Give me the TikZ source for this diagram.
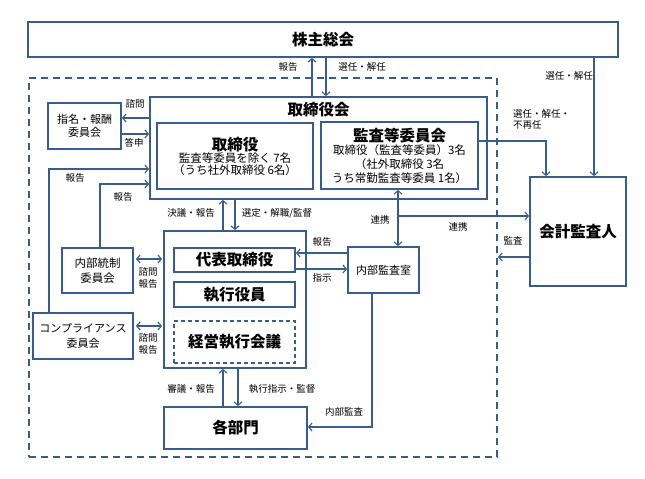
\documentclass[tikz,border=0pt]{standalone}
\usepackage{fontspec}
\setmainfont{Noto Sans CJK JP}
\usetikzlibrary{arrows.meta}
\definecolor{lineblue}{RGB}{56,93,138}
\tikzset{
  box/.style={draw=lineblue, line width=1.8pt, inner sep=1pt, align=center},
  ttl/.style={font=\fontsize{15.5}{18}\selectfont\bfseries},
  txt/.style={font=\fontsize{11.5}{14}\selectfont},
  lbl/.style={font=\fontsize{9.5}{11.5}\selectfont, inner sep=0pt, align=center},
  arr/.style={draw=lineblue, line width=1.1pt, -{Straight Barb[length=3.5pt,width=8pt]}},
  dblarr/.style={arr, {Straight Barb[length=3.5pt,width=8pt]}-{Straight Barb[length=3.5pt,width=8pt]}},
}
\newcommand{\bigt}[1]{{\fontsize{15.5}{18}\selectfont\bfseries #1}}
\begin{document}
\begin{tikzpicture}[x=1pt,y=-1pt]
  \useasboundingbox (0,0) rectangle (645,479);

  % GRUPPO (riquadro tratteggiato)
  \node[box, dash pattern=on 7pt off 5pt, minimum width=468, minimum height=379] (grp) at (263,267.5) {};

  % ASSEMBLEA
  \node[box, ttl, minimum width=590, minimum height=35] (sh) at (323,39.5) {株主総会};

  % CONSIGLIO
  \node[box, minimum width=337, minimum height=102] (bod) at (318.5,148) {};
  \node[ttl, inner sep=0pt] (bodt) at (318.5,110) {取締役会};
  \node[box, txt, minimum width=156, minimum height=66] (dir) at (235,156)
    {\bigt{取締役}\\[-2pt]監査等委員を除く 7名\\[-2pt]（うち社外取締役 6名）};
  \node[box, txt, minimum width=157, minimum height=67] (ac) at (399.5,155.5)
    {\bigt{監査等委員会}\\[-1pt]取締役（監査等委員）3名\\（社外取締役 3名\\うち常勤監査等委員 1名）};
  \node[box, font=\fontsize{11}{13}\selectfont, minimum width=73, minimum height=46] (nom) at (84.5,126) {指名・報酬\\委員会};

  % REVISORE
  \node[box, ttl, minimum width=96, minimum height=109] (ca) at (578,231.5) {会計監査人};

  % COMITATI
  \node[box, font=\fontsize{11.5}{15}\selectfont, minimum width=71, minimum height=45] (icc) at (97.5,270.5) {内部統制\\委員会};
  \node[box, font=\fontsize{11}{15}\selectfont, minimum width=100, minimum height=46] (comp) at (83,336) {コンプライアンス\\委員会};

  % ESECUTIVO
  \node[box, minimum width=142, minimum height=137] (exe) at (235,299.5) {};
  \node[box, ttl, minimum width=121, minimum height=24] (rep) at (234.5,260) {代表取締役};
  \node[box, ttl, minimum width=121, minimum height=25] (off) at (234.5,294.5) {執行役員};
  \node[box, ttl, dash pattern=on 4pt off 3pt, minimum width=121, minimum height=42] (mgmt) at (234.5,342) {経営執行会議};
  \node[box, font=\fontsize{11}{13}\selectfont, minimum width=71, minimum height=46] (iad) at (383.5,270) {内部監査室};
  \node[box, ttl, minimum width=143, minimum height=42] (dept) at (235.5,428) {各部門};

  % FRECCE
  \draw[arr] (bod.north -| 312,0) -- (sh.south -| 312,0);
  \draw[arr] (sh.south -| 326,0) -- (bod.north -| 326,0);
  \draw[arr] (sh.south -| 594,0) -- (ca.north -| 594,0);
  \draw[arr] (ac.east |- 0,141) -| (ca.north -| 546,0);
  \draw[dblarr] (ac.south -| 398,0) -- (iad.north -| 398,0);
  \coordinate (lk) at (398,216);
  \draw[arr] (lk) -- (ca.west |- lk);
  \draw[arr] (ca.west |- 0,257) -- (grp.east |- 0,257);
  \draw[arr] (bod.west |- 0,118) -- (nom.east |- 0,118);
  \draw[arr] (nom.east |- 0,134) -- (bod.west |- 0,134);
  \draw[arr] (comp.north -| 49,0) |- (bod.west |- 0,169);
  \draw[arr] (icc.north -| 100,0) |- (bod.west |- 0,184);
  \draw[arr] (exe.north -| 223,0) -- (bod.south -| 223,0);
  \draw[arr] (bod.south -| 235,0) -- (exe.north -| 235,0);
  \draw[dblarr, shorten <=2pt, shorten >=1pt] (icc.east |- 0,259) -- (exe.west |- 0,259);
  \draw[dblarr, shorten <=2pt, shorten >=1pt] (comp.east |- 0,326) -- (exe.west |- 0,326);
  \draw[arr] (iad.west |- 0,253) -- (rep.east |- 0,253);
  \draw[arr] (rep.east |- 0,269) -- (iad.west |- 0,269);
  \draw[arr] (dept.north -| 223,0) -- (exe.south -| 223,0);
  \draw[arr] (exe.south -| 238,0) -- (dept.north -| 238,0);
  \draw[arr] (iad.south -| 372,0) |- (dept.east |- 0,427);

  % ETICHETTE
  \node[lbl] (l1) at (288,67) {報告};
  \node[lbl] (l2) at (362,67) {選任・解任};
  \node[lbl] (l3) at (569,76) {選任・解任};
  \node[lbl, align=left, anchor=north west] (l4) at (513,109) {選任・解任・\\不再任};
  \node[lbl] (l5) at (135,104) {諮問};
  \node[lbl] (l6) at (134,143) {答申};
  \node[lbl] (l7) at (75,178) {報告};
  \node[lbl] (l8) at (123,197) {報告};
  \node[lbl] (l9) at (191,213) {決議・報告};
  \node[lbl] (l10) at (277,213) {選定・解職/監督};
  \node[lbl] (l11) at (380,220) {連携};
  \node[lbl] (l12) at (458,227) {連携};
  \node[lbl] (l13) at (513,241) {監査};
  \node[lbl] (l14) at (322,242) {報告};
  \node[lbl] (l15) at (322,278) {指示};
  \node[lbl] (l16) at (148,278) {諮問\\報告};
  \node[lbl] (l17) at (148,344) {諮問\\報告};
  \node[lbl] (l18) at (191,389) {審議・報告};
  \node[lbl] (l19) at (282,389) {執行指示・監督};
  \node[lbl] (l20) at (344,412) {内部監査};
\end{tikzpicture}
\end{document}
